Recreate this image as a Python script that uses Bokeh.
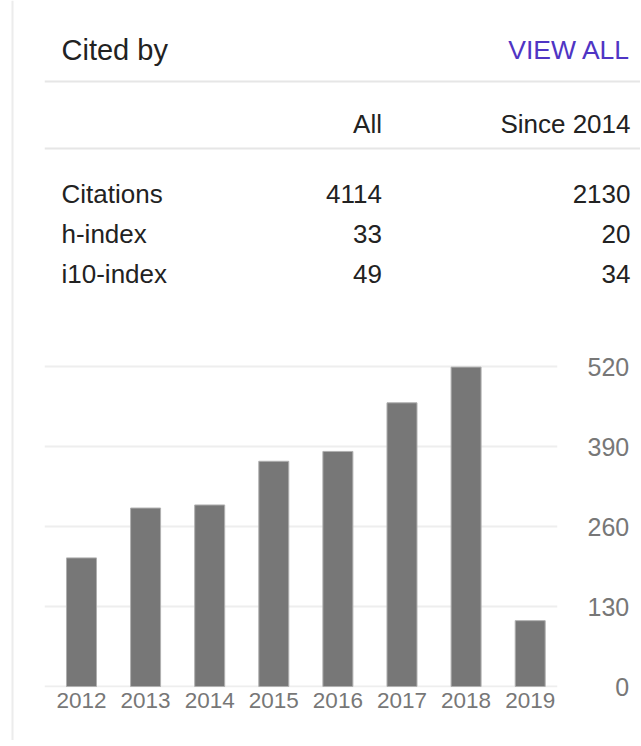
from bokeh.plotting import figure
from bokeh.layouts import row, column
from bokeh.models import Range1d, FixedTicker, ColumnDataSource
from bokeh.core.properties import value
from bokeh.embed import file_html
from bokeh.resources import INLINE

# ---------------- data ----------------
years = [2012, 2013, 2014, 2015, 2016, 2017, 2018, 2019]
citations = [209, 290, 295, 366, 382, 461, 519, 107]
y_ticks = [0, 130, 260, 390, 520]

title_text = "Cited by"
link_text = "VIEW ALL"
column_headers = ["All", "Since 2014"]
metric_names = ["Citations", "h-index", "i10-index"]
all_values = ["4114", "33", "49"]
since_values = ["2130", "20", "34"]

FONT = "Liberation Sans"
TEXT = "#222222"
GRAY = "#777777"

# ---------------- left strip (vertical rule) ----------------
strip = figure(width=44, height=740, x_range=Range1d(0, 44), y_range=Range1d(740, 0),
               x_axis_location=None, y_axis_location=None, output_backend="svg",
               toolbar_location=None, min_border=0, frame_align=False)
strip.outline_line_color = None
strip.grid.visible = False
strip.segment(x0=[12], y0=[0], x1=[12], y1=[740], line_color="#ececec", line_width=2)

# ---------------- header / table ----------------
top = figure(width=596, height=338, x_range=Range1d(44, 640), y_range=Range1d(338, 0),
             x_axis_location=None, y_axis_location=None, output_backend="svg",
             toolbar_location=None, min_border=0, frame_align=False)
top.outline_line_color = None
top.grid.visible = False

top.text(x=[61], y=[49], text=[title_text], text_font=value(FONT), text_font_size="29px",
         text_color=TEXT, text_align="left", text_baseline="alphabetic")
top.text(x=[630], y=[49], text=[link_text], text_font=value(FONT), text_font_size="26.5px",
         text_color="#4f35c4", text_align="right", text_baseline="alphabetic")

top.segment(x0=[44, 44], y0=[81, 148], x1=[640, 640], y1=[81, 148],
            line_color="#e6e6e6", line_width=2)

col_right = [381.5, 630]
top.text(x=col_right, y=[123, 123], text=column_headers, text_font=value(FONT),
         text_font_size="26px", text_color=TEXT, text_align="right", text_baseline="alphabetic")

row_y = [193 + 40 * i for i in range(len(metric_names))]
top.text(x=[61] * len(metric_names), y=row_y, text=metric_names, text_font=value(FONT),
         text_font_size="26px", text_color=TEXT, text_align="left", text_baseline="alphabetic")
top.text(x=[col_right[0]] * len(all_values), y=row_y, text=all_values, text_font=value(FONT),
         text_font_size="26px", text_color=TEXT, text_align="right", text_baseline="alphabetic")
top.text(x=[col_right[1]] * len(since_values), y=row_y, text=since_values, text_font=value(FONT),
         text_font_size="26px", text_color=TEXT, text_align="right", text_baseline="alphabetic")

# ---------------- bar chart ----------------
src = ColumnDataSource(dict(year=years, citations=citations))
p = figure(width=596, height=402, x_range=Range1d(2011.423, 2019.426),
           y_range=Range1d(-1.625, 552.5), y_axis_location="right",
           output_backend="svg", toolbar_location=None, frame_align=False,
           min_border_left=0, min_border_right=83, min_border_top=8, min_border_bottom=53)
p.outline_line_color = None

p.vbar(x="year", top="citations", width=0.468, source=src,
       fill_color="#777777", line_color="#b0b0b0", line_width=1)

xt = FixedTicker(ticks=years)
p.xaxis.ticker = xt
p.xaxis.axis_line_color = None
p.xaxis.major_tick_line_color = None
p.xaxis.minor_tick_line_color = None
p.xaxis.major_tick_out = 0
p.xaxis.major_tick_in = 0
p.xaxis.major_label_standoff = 5
p.xaxis.major_label_text_font = FONT
p.xaxis.major_label_text_font_size = "22.5px"
p.xaxis.major_label_text_color = GRAY
p.xgrid.grid_line_color = None

yt = FixedTicker(ticks=y_ticks)
p.yaxis.ticker = yt
p.yaxis.axis_line_color = None
p.yaxis.major_tick_line_color = None
p.yaxis.minor_tick_line_color = None
p.yaxis.major_tick_out = 0
p.yaxis.major_tick_in = 0
p.yaxis.major_label_standoff = 30
p.yaxis.major_label_text_font = FONT
p.yaxis.major_label_text_font_size = "25px"
p.yaxis.major_label_text_color = GRAY
p.yaxis.major_label_overrides = {0: "\u2007\u20070"}
p.ygrid.ticker = yt
p.ygrid.grid_line_color = "#eeeeee"
p.ygrid.grid_line_width = 2

layout = row(strip, column(top, p, spacing=0), spacing=0)

open("out.html", "w").write(file_html(layout, INLINE))
